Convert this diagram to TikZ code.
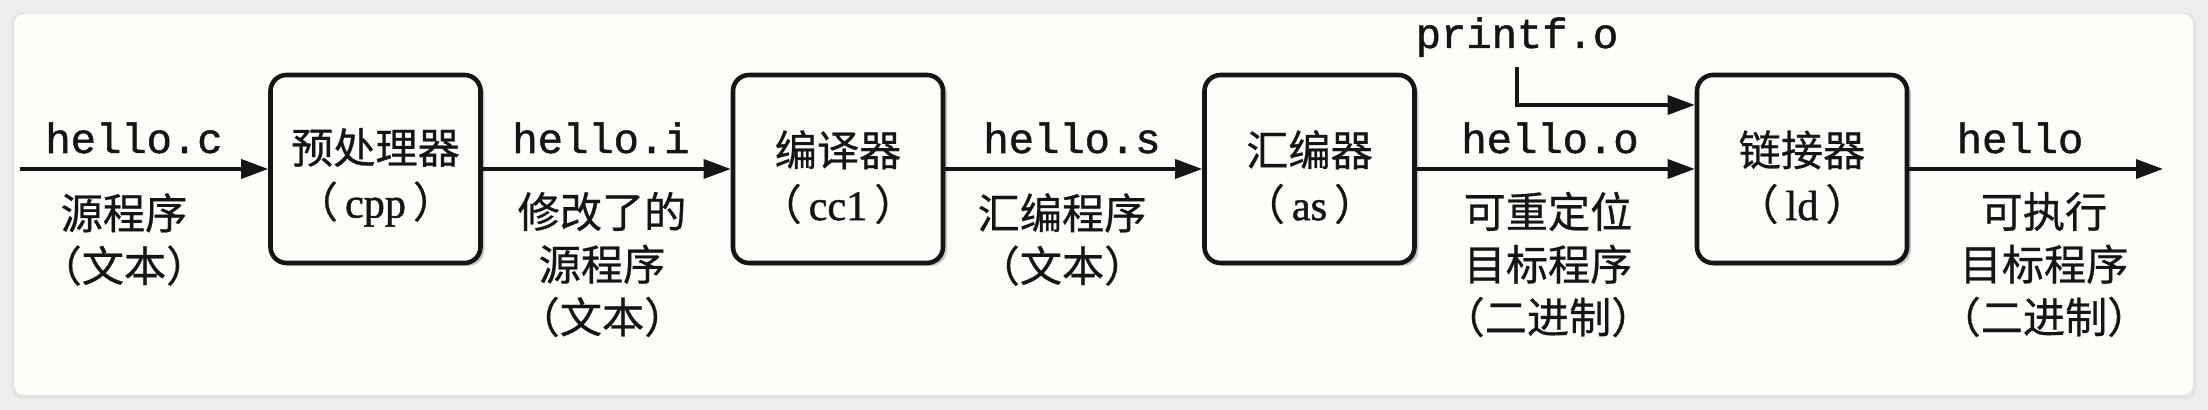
\documentclass[tikz,border=0pt]{standalone}
\usepackage{fontspec}
\setmainfont{Liberation Serif}[FakeBold=1.2]
\setmonofont{Liberation Mono}[FakeBold=1.2]
\newfontfamily\cjk{Noto Sans CJK SC}[FakeBold=0.6]
\usetikzlibrary{arrows.meta,shadows}
\definecolor{pagebg}{HTML}{EDEDED}
\definecolor{cardbg}{HTML}{FDFDFA}
\definecolor{ink}{HTML}{151515}
\tikzset{
  stage/.style={draw=ink, line width=1.3pt, rounded corners=0.16cm, fill=cardbg,
    minimum width=2.1cm, minimum height=1.88cm, align=center, inner sep=0pt,
    font=\fontsize{12}{15.4}\selectfont\cjk, text=ink,
    drop shadow={shadow xshift=0.04cm, shadow yshift=-0.03cm, fill=gray, opacity=0.4}},
  flow/.style={draw=ink, line width=1pt, -{Triangle[length=0.27cm,width=0.19cm]}},
  fname/.style={font=\fontsize{12}{15}\selectfont\ttfamily, anchor=base, inner sep=0pt, text=ink},
  note/.style={font=\fontsize{12}{15}\selectfont\cjk, align=center, inner sep=0pt, text=ink},
}
\newcommand{\toprule}{\rule{0pt}{0.52cm}}
\begin{document}
\begin{tikzpicture}
    \useasboundingbox (0,0) rectangle (22.08,4.10);
    % ── fondo y tarjeta ──────────────────────────────────
    \fill[pagebg] (0,0) rectangle (22.08,4.10);
    \fill[gray!22, rounded corners=0.1cm] (0.12,0.11) rectangle (21.96,3.97);
    \fill[cardbg, rounded corners=0.1cm] (0.14,0.15) rectangle (21.93,3.96);
    % ── etapas ───────────────────────────────────────────
    \node[stage] (pre)  at (3.755,2.41)  {\toprule 预处理器\\（\,{\rmfamily cpp}\,）};
    \node[stage] (comp) at (8.38,2.41)   {\toprule 编译器\\（\,{\rmfamily cc1}\,）};
    \node[stage] (asm)  at (13.095,2.41) {\toprule 汇编器\\（\,{\rmfamily as}\,）};
    \node[stage] (link) at (18.02,2.41)  {\toprule 链接器\\（\,{\rmfamily ld}\,）};
    % extremos libres
    \coordinate (src) at (0.20,2.41);
    \coordinate (out) at (21.63,2.41);
    \coordinate (pfbend) at (15.17,3.43);
    % ── flechas ──────────────────────────────────────────
    \draw[flow] (src) -- (pre);
    \draw[flow] (pre) -- (comp);
    \draw[flow] (comp) -- (asm);
    \draw[flow] (asm) -- (link);
    \draw[flow] (link) -- (out);
    \draw[flow] (pfbend) |- (link.west |- 0,3.05);
    % ── ficheros y descripciones ─────────────────────────
    \node[fname] (pf) at (15.17,3.62) {printf.o};
    \node[fname] (fc) at (1.34,2.57)  {hello.c};
    \node[note]  (nc) at (1.24,1.705) {源程序\\（文本）};
    \node[fname] (fi) at (6.01,2.57)  {hello.i};
    \node[note]  (ni) at (6.02,1.455) {修改了的\\源程序\\（文本）};
    \node[fname] (fs) at (10.72,2.57) {hello.s};
    \node[note]  (ns) at (10.62,1.705) {汇编程序\\（文本）};
    \node[fname] (fo) at (15.50,2.57) {hello.o};
    \node[note]  (no) at (15.48,1.455) {可重定位\\目标程序\\（二进制）};
    \node[fname] (fx) at (20.20,2.57) {hello};
    \node[note]  (nx) at (20.44,1.455) {可执行\\目标程序\\（二进制）};
\end{tikzpicture}
\end{document}
